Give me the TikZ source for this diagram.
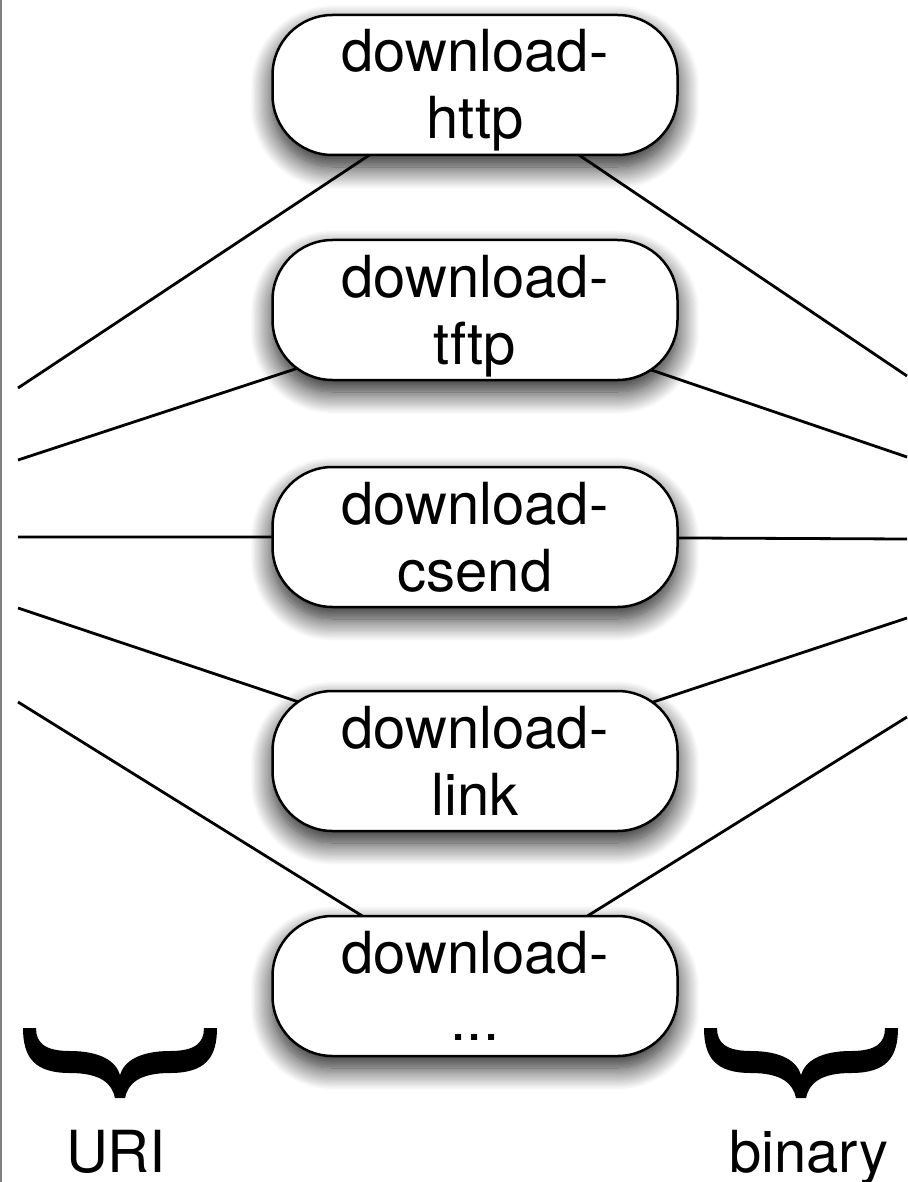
\documentclass[tikz,border=0pt]{standalone}
\usepackage{fontspec}
\setmainfont{TeX Gyre Heros}
\usepackage{tikz}
\usetikzlibrary{backgrounds}
\usetikzlibrary{shadows.blur}

\newcommand{\twolines}[2]{\makebox[0pt]{\raisebox{13pt}{#1}}\makebox[0pt]{\raisebox{-54pt}{#2}}}

\tikzset{
    pics/downbrace/.style = {code = {
        \fill (-97,0) .. controls (-97,30) and (-85,45) .. (-50,45)
              .. controls (-20,45) and (-8,55) .. (-5,70) -- (5,70)
              .. controls (8,55) and (20,45) .. (50,45)
              .. controls (85,45) and (97,30) .. (97,0) -- (84,0)
              .. controls (84,15) and (75,23) .. (50,23)
              .. controls (20,23) and (4,33) .. (0,47)
              .. controls (-4,33) and (-20,23) .. (-50,23)
              .. controls (-75,23) and (-84,15) .. (-84,0) -- cycle;
    }}
}

\begin{document}
\begin{tikzpicture}[
        x = 1pt, y = -1pt,
        box/.style = { draw, black, fill = white, line width = 2.5pt, rounded corners = 60pt, minimum width = 405pt, minimum height = 140pt, inner sep = 0pt, text height = 0pt, text depth = 0pt, font = \fontsize{58}{66}\selectfont, blur shadow = {shadow xshift = 0pt, shadow yshift = -12pt, shadow blur radius = 22pt, shadow blur steps = 20, shadow opacity = 90} },
        wire/.style = { line width = 2.8pt },
        side/.style = { anchor = base, inner sep = 0pt, font = \fontsize{58}{66}\selectfont },
    ]
    \useasboundingbox (0,0) rectangle (907,1182);
    \draw[gray, line width = 2pt] (1,0) -- (1,1182);

    % the download modules
    \node[box] (Http)  at (475,85)  {\twolines{download-}{http}};
    \node[box] (Tftp)  at (475,310) {\twolines{download-}{tftp}};
    \node[box] (Csend) at (475,537) {\twolines{download-}{csend}};
    \node[box] (Link)  at (475,761) {\twolines{download-}{link}};
    \node[box] (More)  at (475,986) {\twolines{download-}{...}};

    % lines out to both sides
    \begin{scope}[on background layer]
        \foreach \n/\l/\r in {Http/388/376, Tftp/460/457, Csend/537/539, Link/608/618, More/702/717} {
            \coordinate (In\n)  at (18,\l);
            \coordinate (Out\n) at (907,\r);
            \draw[wire] (In\n) -- (\n.center) -- (Out\n);
        }
    \end{scope}

    \pic at (120,1028) {downbrace};
    \pic at (801,1028) {downbrace};
    \node[side] (Uri)    at (116,1172) {URI};
    \node[side] (Binary) at (809,1172) {binary};
\end{tikzpicture}
\end{document}
